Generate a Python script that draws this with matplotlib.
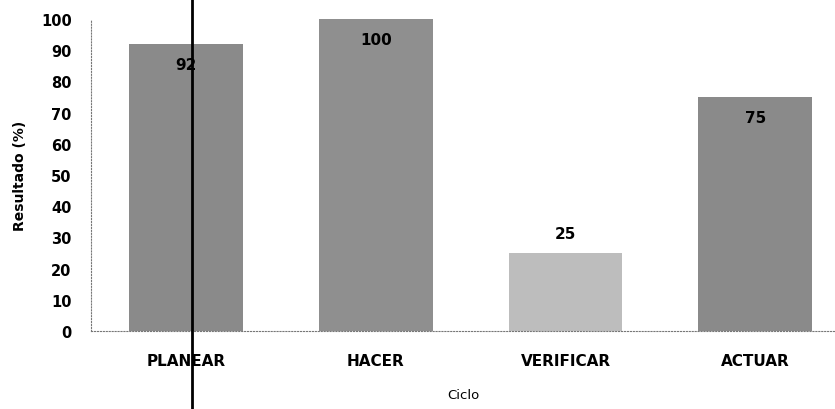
import matplotlib.pyplot as plt
from matplotlib.lines import Line2D

ciclos = ['PLANEAR', 'HACER', 'VERIFICAR', 'ACTUAR']
resultados = [92, 100, 25, 75]
colores = ['#8a8a8a', '#8f8f8f', '#bdbdbd', '#8a8a8a']

fig = plt.figure(figsize=(8.35, 4.1), dpi=100)
ax = fig.add_axes([0.109, 0.19, 0.891, 0.761])

x = range(len(ciclos))
ax.bar(x, resultados, width=0.6, color=colores, edgecolor='none')

for i, v in enumerate(resultados):
    if v > 50:
        ax.text(i, v - 6.5, str(v), ha='center', va='center', fontsize=11, fontweight='bold')
    else:
        ax.text(i, v + 4, str(v), ha='center', va='bottom', fontsize=11, fontweight='bold')

ax.set_xlim(-0.5, 3.42)
ax.set_ylim(0, 100)
ax.set_yticks(range(0, 101, 10))
ax.set_xticks(list(x))
ax.set_xticklabels(ciclos, fontsize=11, fontweight='bold')
for lbl in ax.get_yticklabels():
    lbl.set_fontweight('bold')
    lbl.set_fontsize(10.5)
ax.tick_params(axis='y', length=0, pad=14)
ax.tick_params(axis='x', length=0, pad=16)

ax.set_ylabel('Resultado (%)', fontsize=10, fontweight='bold', labelpad=10)
ax.set_xlabel('Ciclo', fontsize=9.5, labelpad=14)

for s in ['top', 'right']:
    ax.spines[s].set_visible(False)
for s in ['left', 'bottom']:
    ax.spines[s].set_linestyle(':')
    ax.spines[s].set_color('#777777')
    ax.spines[s].set_linewidth(0.8)

# linea vertical del escaneo
fig.add_artist(Line2D([192 / 835, 192 / 835], [0, 1], color='black', linewidth=2))

fig.savefig('out.png', dpi=100)
